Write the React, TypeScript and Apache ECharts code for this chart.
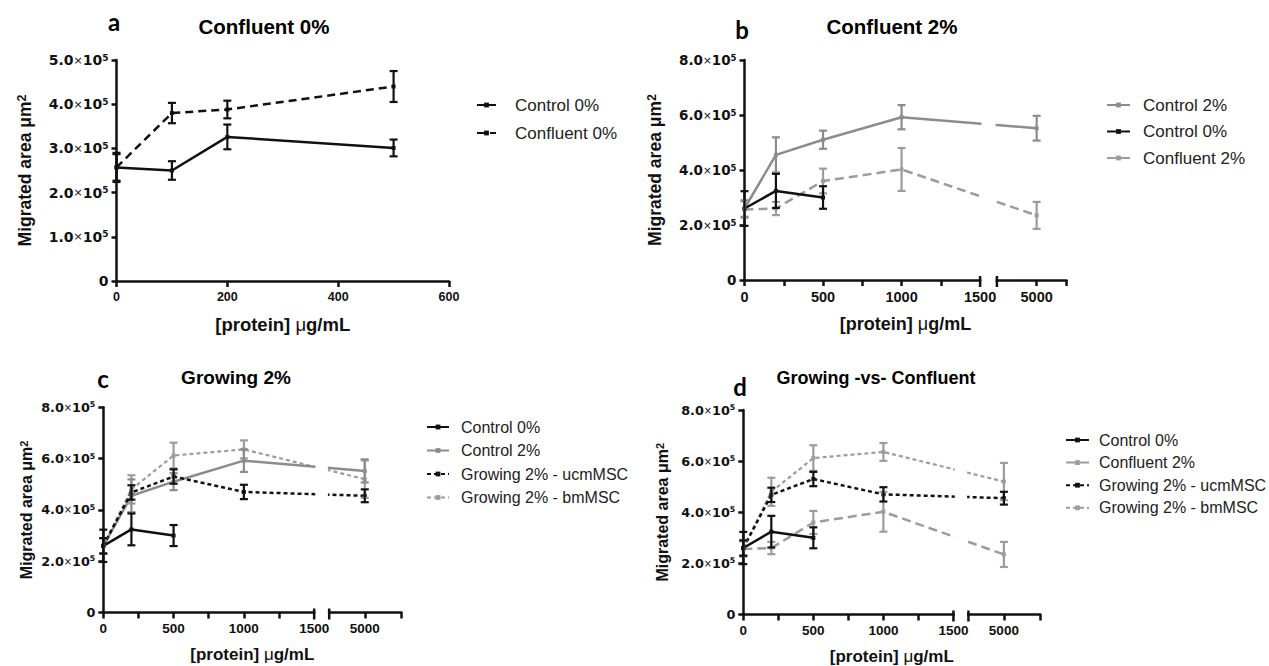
import React, { useEffect, useRef } from 'react';
import * as echarts from 'echarts';

// ---------- data ----------
// Panel a (Confluent 0%)
const DOSES_A = [0, 100, 200, 500];
const A_CONTROL0 = [2.57e5, 2.5e5, 3.26e5, 3.01e5];
const A_CONTROL0_ERR = [0.33e5, 0.21e5, 0.28e5, 0.19e5];
const A_CONFLUENT0 = [2.57e5, 3.8e5, 3.88e5, 4.4e5];
const A_CONFLUENT0_ERR = [0.3e5, 0.23e5, 0.2e5, 0.35e5];

// Panels b, c, d
const DOSES = [0, 200, 500, 1000, 5000];
const DOSES_C0 = [0, 200, 500];
const CONTROL0 = [2.6e5, 3.24e5, 3.0e5];
const CONTROL0_ERR = [0.63e5, 0.62e5, 0.41e5];
const CONTROL2 = [2.6e5, 4.55e5, 5.1e5, 5.92e5, 5.52e5];
const CONTROL2_ERR = [0.3e5, 0.64e5, 0.33e5, 0.44e5, 0.45e5];
const CONFLUENT2 = [2.56e5, 2.6e5, 3.6e5, 4.02e5, 2.35e5];
const CONFLUENT2_ERR = [0.3e5, 0.24e5, 0.45e5, 0.78e5, 0.49e5];
const UCM = [2.6e5, 4.68e5, 5.3e5, 4.7e5, 4.55e5];
const UCM_ERR = [0.3e5, 0.28e5, 0.28e5, 0.28e5, 0.25e5];
const BM = [2.6e5, 4.8e5, 6.12e5, 6.36e5, 5.2e5];
const BM_ERR = [0.3e5, 0.55e5, 0.5e5, 0.35e5, 0.73e5];

// axes
const X_TICKS_A = [0, 200, 400, 600];
const X_LABELS_BROKEN = [0, 500, 1000, 1500, 5000];
const X_MINOR_BROKEN = [0, 250, 500, 750, 1000, 1250, 5000];
const Y_MAX_A = 5e5;
const Y_STEP_A = 1e5;
const Y_MAX = 8e5;
const Y_STEP = 2e5;

// broken x axis: 0..1500, gap, second segment around 5000
const BREAK_FROM = 1500;
const BREAK_TO = 1607;
const POS_5000 = 1860;
const SEG2_SCALE = 0.1;
const brokenPos = (v: number) => (v <= BREAK_FROM ? v : POS_5000 + (v - 5000) * SEG2_SCALE);
const brokenVal = (p: number) => (p <= BREAK_FROM ? p : Math.round(5000 + (p - POS_5000) / SEG2_SCALE));

const FONT = "'Liberation Sans', Arial, Helvetica, sans-serif";
const WIDE = "'DejaVu Sans', 'Liberation Sans', sans-serif";
const BLACK = '#111111';
const GRAY = '#8c8c8c';
const LGRAY = '#9c9c9c';

type Sty = { color: string; width: number; type: any };
const STY: Record<string, Sty> = {
  'Control 0%': { color: BLACK, width: 2.5, type: 'solid' },
  'Confluent 0%': { color: BLACK, width: 2.5, type: [8, 5] },
  'Control 2%': { color: GRAY, width: 2.5, type: 'solid' },
  'Confluent 2%': { color: LGRAY, width: 2.5, type: [9, 5] },
  'Growing 2% - ucmMSC': { color: BLACK, width: 2.5, type: [4, 3] },
  'Growing 2% - bmMSC': { color: LGRAY, width: 2.2, type: [4, 3] },
};

function lineSeries(name: string, doses: number[], vals: number[], idx: number, broken: boolean) {
  const s = STY[name];
  return {
    type: 'line',
    name,
    xAxisIndex: idx,
    yAxisIndex: idx,
    data: doses.map((d, k) => [broken ? brokenPos(d) : d, vals[k]]),
    symbol: 'rect',
    symbolSize: 4,
    showSymbol: true,
    lineStyle: { color: s.color, width: s.width, type: s.type },
    itemStyle: { color: s.color },
    z: 2,
    silent: true,
  };
}

function errSeries(name: string, doses: number[], vals: number[], errs: number[], idx: number, broken: boolean) {
  const s = STY[name];
  return {
    type: 'custom',
    xAxisIndex: idx,
    yAxisIndex: idx,
    silent: true,
    z: 3,
    data: doses.map((d, k) => [broken ? brokenPos(d) : d, vals[k] - errs[k], vals[k] + errs[k]]),
    encode: { x: 0, y: [1, 2] },
    renderItem: (params: any, api: any) => {
      const x = api.value(0);
      const top = api.coord([x, api.value(2)]);
      const bot = api.coord([x, api.value(1)]);
      const w = 4;
      const st = { stroke: s.color, lineWidth: 2.2 };
      return {
        type: 'group',
        children: [
          { type: 'line', shape: { x1: top[0], y1: top[1], x2: bot[0], y2: bot[1] }, style: st },
          { type: 'line', shape: { x1: top[0] - w, y1: top[1], x2: top[0] + w, y2: top[1] }, style: st },
          { type: 'line', shape: { x1: bot[0] - w, y1: bot[1], x2: bot[0] + w, y2: bot[1] }, style: st },
        ],
      };
    },
  };
}

function breakSeries(idx: number) {
  return {
    type: 'custom',
    xAxisIndex: idx,
    yAxisIndex: idx,
    silent: true,
    z: 10,
    clip: false,
    data: [[BREAK_FROM, BREAK_TO, 0]],
    encode: { x: [0, 1], y: 2 },
    renderItem: (params: any, api: any) => {
      const cs = params.coordSys;
      const x1 = api.coord([api.value(0), 0])[0];
      const x2 = api.coord([api.value(1), 0])[0];
      const yb = cs.y + cs.height;
      const st = { stroke: BLACK, lineWidth: 2.5 };
      return {
        type: 'group',
        children: [
          { type: 'rect', shape: { x: x1 + 1.3, y: cs.y - 4, width: x2 - x1 - 2.6, height: cs.height + 8 }, style: { fill: '#ffffff' } },
          { type: 'line', shape: { x1: x1, y1: yb - 4, x2: x1, y2: yb + 7 }, style: st },
          { type: 'line', shape: { x1: x2, y1: yb - 4, x2: x2, y2: yb + 7 }, style: st },
        ],
      };
    },
  };
}

const GRIDS = [
  { left: 116.5, top: 60, width: 332.5, height: 221 },
  { left: 744.5, top: 60, width: 322, height: 220 },
  { left: 103.3, top: 407.3, width: 298, height: 205.2 },
  { left: 743.3, top: 410, width: 297, height: 204.5 },
];
const X_MAX = [600, 2050, 2120, 2120];
const Y_NAME_GAP = [83, 81, 69, 73];
const X_NAME_GAP = [34, 35, 33, 33];
const TICK_FS = [14, 13.5, 12.8, 12.8];
const XT_FS = [12.5, 14.5, 13.5, 13.5];
const YNAME_FS = [17.5, 17.5, 16, 16];
const XNAME_FS = [18.5, 18, 17, 17];

function yAxis(idx: number) {
  const fs = TICK_FS[idx];
  return {
    type: 'value',
    gridIndex: idx,
    min: 0,
    max: idx === 0 ? Y_MAX_A : Y_MAX,
    interval: idx === 0 ? Y_STEP_A : Y_STEP,
    splitLine: { show: false },
    axisLine: { show: true, lineStyle: { color: BLACK, width: 2.5 } },
    axisTick: { show: true, length: 5, lineStyle: { color: BLACK, width: 2.5 } },
    axisLabel: {
      margin: 8,
      color: BLACK,
      formatter: (v: number) => (v === 0 ? '{n|0}' : `{n|${(v / 1e5).toFixed(1)}}{x|×}{n|10}{s|5}`),
      rich: {
        n: { fontSize: fs, fontWeight: 'bold', fontFamily: WIDE, color: BLACK },
        x: { fontSize: fs - 3, fontWeight: 'normal', fontFamily: WIDE, color: BLACK },
        s: { fontSize: fs - 5, fontWeight: 'bold', fontFamily: WIDE, color: BLACK, verticalAlign: 'top', lineHeight: fs - 5 },
      },
    },
    name: '{t|Migrated area μm}{s|2}',
    nameLocation: 'middle',
    nameRotate: 90,
    nameGap: Y_NAME_GAP[idx],
    nameTextStyle: {
      rich: {
        t: { fontSize: YNAME_FS[idx], fontWeight: 'bold', fontFamily: FONT, color: BLACK },
        s: { fontSize: YNAME_FS[idx] - 5, fontWeight: 'bold', fontFamily: FONT, color: BLACK, verticalAlign: 'top', lineHeight: YNAME_FS[idx] - 5 },
      },
    },
  };
}

function xAxis(idx: number) {
  const broken = idx > 0;
  const base: any = {
    type: 'value',
    gridIndex: idx,
    min: 0,
    max: X_MAX[idx],
    splitLine: { show: false },
    axisLine: { show: true, onZero: false, lineStyle: { color: BLACK, width: 2.5 } },
    name: '{b|[protein] }{m|μ}{b|g/mL}',
    nameLocation: 'middle',
    nameGap: X_NAME_GAP[idx],
    nameTextStyle: {
      rich: {
        b: { fontSize: XNAME_FS[idx], fontWeight: 'bold', fontFamily: FONT, color: BLACK },
        m: { fontSize: XNAME_FS[idx], fontWeight: 'normal', fontFamily: FONT, color: BLACK },
      },
    },
  };
  const lbl = { margin: 9, color: BLACK, fontSize: XT_FS[idx], fontWeight: 'bold', fontFamily: FONT };
  if (!broken) {
    base.interval = 200;
    base.axisTick = { show: true, length: 6, lineStyle: { color: BLACK, width: 2.5 }, customValues: X_TICKS_A };
    base.axisLabel = { ...lbl, customValues: X_TICKS_A };
  } else {
    base.axisTick = {
      show: true,
      length: 6,
      lineStyle: { color: BLACK, width: 2.5 },
      customValues: [...X_MINOR_BROKEN.map(brokenPos), X_MAX[idx]],
    };
    base.axisLabel = {
      ...lbl,
      customValues: X_LABELS_BROKEN.map(brokenPos),
      formatter: (v: number) => String(brokenVal(v)),
    };
  }
  return base;
}

const TITLES = [
  { letter: 'a', lx: 114, ly: 21, title: 'Confluent 0%', tx: 264, ty: 26, fs: 20.5 },
  { letter: 'b', lx: 742, ly: 29, title: 'Confluent 2%', tx: 892, ty: 26, fs: 20.5 },
  { letter: 'c', lx: 103, ly: 378, title: 'Growing 2%', tx: 236, ty: 377, fs: 19 },
  { letter: 'd', lx: 740, ly: 386, title: 'Growing -vs- Confluent', tx: 876, ty: 378, fs: 18 },
];

const LEGENDS = [
  { data: ['Control 0%', 'Confluent 0%'], left: 471, top: 91.5, gap: 11, fs: 17, w: 19, pad: 14 },
  { data: ['Control 2%', 'Control 0%', 'Confluent 2%'], left: 1101, top: 91.5, gap: 9.5, fs: 17, w: 23, pad: 8 },
  { data: ['Control 0%', 'Control 2%', 'Growing 2% - ucmMSC', 'Growing 2% - bmMSC'], left: 421, top: 414, gap: 7.5, fs: 16, w: 22, pad: 7 },
  { data: ['Control 0%', 'Confluent 2%', 'Growing 2% - ucmMSC', 'Growing 2% - bmMSC'], left: 1060, top: 427, gap: 6.6, fs: 16, w: 23, pad: 5 },
];

function buildOption() {
  const series: any[] = [];
  // panel a
  series.push(lineSeries('Control 0%', DOSES_A, A_CONTROL0, 0, false));
  series.push(lineSeries('Confluent 0%', DOSES_A, A_CONFLUENT0, 0, false));
  series.push(errSeries('Control 0%', DOSES_A, A_CONTROL0, A_CONTROL0_ERR, 0, false));
  series.push(errSeries('Confluent 0%', DOSES_A, A_CONFLUENT0, A_CONFLUENT0_ERR, 0, false));
  const b: [string, number[], number[], number[]][] = [
    ['Confluent 2%', DOSES, CONFLUENT2, CONFLUENT2_ERR],
    ['Control 2%', DOSES, CONTROL2, CONTROL2_ERR],
    ['Control 0%', DOSES_C0, CONTROL0, CONTROL0_ERR],
  ];
  const c: [string, number[], number[], number[]][] = [
    ['Growing 2% - bmMSC', DOSES, BM, BM_ERR],
    ['Control 2%', DOSES, CONTROL2, CONTROL2_ERR],
    ['Growing 2% - ucmMSC', DOSES, UCM, UCM_ERR],
    ['Control 0%', DOSES_C0, CONTROL0, CONTROL0_ERR],
  ];
  const d: [string, number[], number[], number[]][] = [
    ['Growing 2% - bmMSC', DOSES, BM, BM_ERR],
    ['Confluent 2%', DOSES, CONFLUENT2, CONFLUENT2_ERR],
    ['Growing 2% - ucmMSC', DOSES, UCM, UCM_ERR],
    ['Control 0%', DOSES_C0, CONTROL0, CONTROL0_ERR],
  ];
  [b, c, d].forEach((set, k) => {
    const idx = k + 1;
    set.forEach(([name, doses, vals, errs]) => {
      series.push(lineSeries(name, doses, vals, idx, true));
      series.push(errSeries(name, doses, vals, errs, idx, true));
    });
    series.push(breakSeries(idx));
  });

  const graphic: any[] = [];
  TITLES.forEach((t) => {
    graphic.push({
      type: 'text', x: t.lx, y: t.ly, silent: true,
      style: { text: t.letter, fontSize: 24, fontWeight: 'bold', fontFamily: 'Lato, sans-serif', fill: '#000', textAlign: 'center', textVerticalAlign: 'middle' },
    });
    graphic.push({
      type: 'text', x: t.tx, y: t.ty, silent: true,
      style: { text: t.title, fontSize: t.fs, fontWeight: 'bold', fontFamily: FONT, fill: '#000', textAlign: 'center', textVerticalAlign: 'middle' },
    });
  });

  return {
    animation: false,
    backgroundColor: '#ffffff',
    grid: GRIDS.map((g) => ({ ...g, containLabel: false })),
    xAxis: [0, 1, 2, 3].map(xAxis),
    yAxis: [0, 1, 2, 3].map(yAxis),
    legend: LEGENDS.map((l) => ({
      data: l.data,
      orient: 'vertical',
      left: l.left,
      top: l.top,
      itemGap: l.gap,
      itemWidth: l.w,
      itemHeight: 6,
      selectedMode: false,
      textStyle: { fontSize: l.fs, fontFamily: FONT, color: '#222', padding: [0, 0, 0, l.pad] },
    })),
    series,
    graphic,
  };
}

export default function App() {
  const ref = useRef<HTMLDivElement>(null);
  useEffect(() => {
    if (!ref.current) return;
    const chart = echarts.init(ref.current, undefined, { renderer: 'svg' });
    chart.setOption(buildOption() as any);
    return () => chart.dispose();
  }, []);
  return (
    <div style={{ position: 'fixed', left: 0, top: 0, width: 1269, height: 666, background: '#fff' }}>
      <div ref={ref} style={{ width: 1269, height: 666 }} />
    </div>
  );
}
